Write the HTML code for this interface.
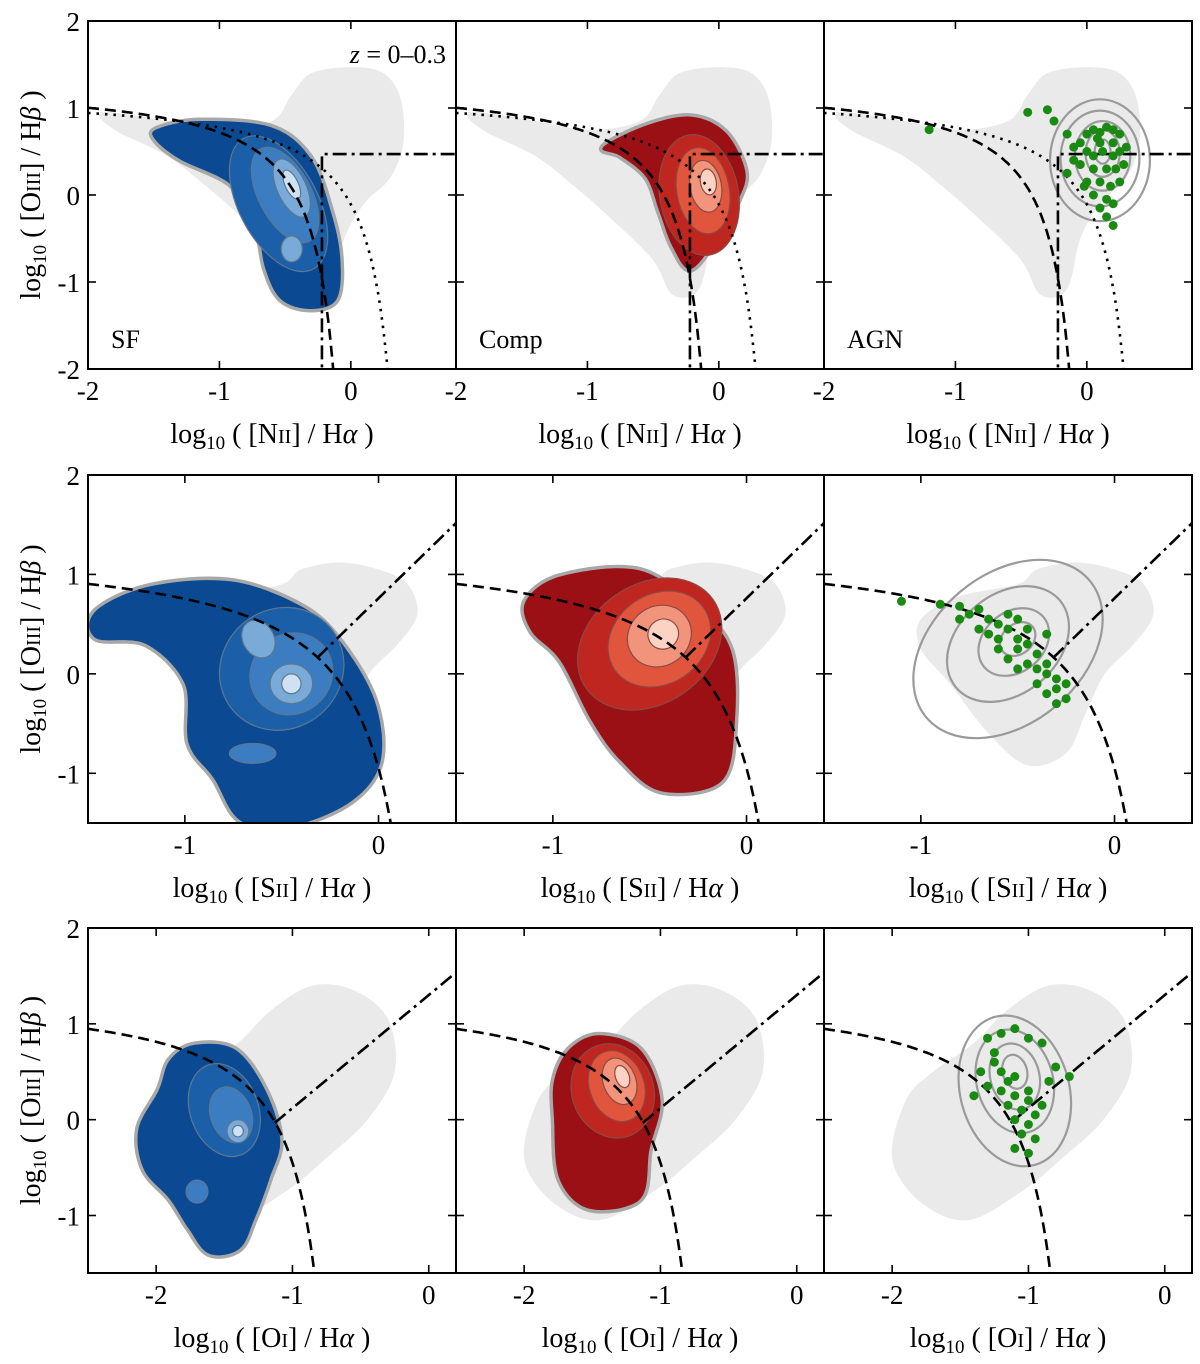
<!DOCTYPE html>
<html><head><meta charset="utf-8">
<style>
html,body{margin:0;padding:0;background:#fff;}
svg{display:block;font-family:"Liberation Serif","DejaVu Serif",serif;}
</style></head>
<body>
<svg id="fig" width="1200" height="1364" viewBox="0 0 1200 1364" xmlns="http://www.w3.org/2000/svg"></svg>
<script>
// ---------- data arrays ----------
const rowNames = ["nii", "sii", "oi"];
const colNames = ["SF", "Comp", "AGN"];
const xTicksNII = [-2, -1, 0];
const xTicksSII = [-1, 0];
const xTicksOI = [-2, -1, 0];
const yTicksNII = [-2, -1, 0, 1, 2];
const yTicksSII = [-1, 0, 1, 2];
const yTicksOI = [-1, 0, 1, 2];
const xLimNII = [-2, 0.8], yLimNII = [-2, 2];
const xLimSII = [-1.5, 0.4], yLimSII = [-1.5, 2];
const xLimOI = [-2.5, 0.2], yLimOI = [-1.6, 2];

// gray background clouds (all galaxies)
const cloudNII = [[-1.9,0.95],[-1.5,0.88],[-1.0,0.75],[-0.6,0.85],[-0.45,1.15],[-0.3,1.4],[0,1.47],[0.25,1.4],[0.38,1.1],[0.4,0.6],[0.3,0.2],[0.1,-0.1],[-0.05,-0.5],[-0.15,-1.08],[-0.35,-1.15],[-0.5,-0.75],[-0.8,-0.3],[-1.1,0.1],[-1.4,0.45],[-1.8,0.75]];
const cloudSII = [[-1.0,0.55],[-0.8,0.78],[-0.5,0.9],[-0.4,1.05],[-0.2,1.12],[0.0,1.05],[0.15,0.9],[0.2,0.6],[0.1,0.3],[-0.05,0.0],[-0.15,-0.4],[-0.25,-0.8],[-0.45,-0.92],[-0.65,-0.6],[-0.85,-0.1],[-1.0,0.25]];
const cloudOI = [[-1.9,0.2],[-1.7,0.5],[-1.4,0.8],[-1.15,1.15],[-0.85,1.4],[-0.55,1.35],[-0.3,1.05],[-0.25,0.5],[-0.45,0.0],[-0.75,-0.4],[-1.05,-0.75],[-1.45,-1.05],[-1.8,-0.85],[-2.0,-0.4]];

// coloured KDE regions (outer level)
const sfNII = [[-1.47,0.76],[-1.15,0.85],[-0.61,0.78],[-0.31,0.43],[-0.15,-0.2],[-0.08,-0.74],[-0.11,-1.2],[-0.31,-1.31],[-0.53,-1.2],[-0.65,-0.85],[-0.73,-0.28],[-0.92,0.13],[-1.3,0.41],[-1.49,0.64]];
const compNII = [[-0.88,0.55],[-0.55,0.8],[-0.21,0.9],[0.05,0.72],[0.2,0.28],[0.15,-0.05],[0.0,-0.45],[-0.21,-0.85],[-0.35,-0.6],[-0.45,-0.2],[-0.55,0.2],[-0.75,0.45]];
const sfSII = [[-1.46,0.63],[-1.18,0.88],[-0.76,0.93],[-0.40,0.68],[-0.20,0.33],[-0.02,-0.27],[0.01,-0.88],[-0.14,-1.28],[-0.45,-1.53],[-0.71,-1.48],[-0.85,-1.05],[-0.98,-0.7],[-1.0,-0.1],[-1.2,0.3],[-1.46,0.36]];
const compSII = [[-1.14,0.73],[-0.96,0.98],[-0.55,1.04],[-0.24,0.63],[-0.08,0.23],[-0.06,-0.47],[-0.13,-1.08],[-0.44,-1.18],[-0.65,-0.87],[-0.80,-0.47],[-0.96,0.13],[-1.11,0.43]];
const sfOI = [[-1.90,0.62],[-1.72,0.78],[-1.42,0.73],[-1.20,0.31],[-1.09,-0.21],[-1.17,-0.62],[-1.28,-1.04],[-1.39,-1.35],[-1.61,-1.40],[-1.76,-1.14],[-1.90,-0.83],[-2.09,-0.52],[-2.13,-0.10],[-1.98,0.31]];
const compOI = [[-1.67,0.73],[-1.45,0.88],[-1.15,0.73],[-1.00,0.21],[-1.08,-0.31],[-1.15,-0.83],[-1.52,-0.93],[-1.74,-0.62],[-1.78,0],[-1.78,0.41]];

// inner KDE levels: [cx, cy, rx, ry, rotationDeg, level]
const sfNIIlev = [[-0.55,-0.1,0.3,0.85,-28,1],[-0.5,0.0,0.2,0.6,-28,2],[-0.45,0.08,0.11,0.36,-25,3],[-0.45,0.12,0.05,0.18,-25,4],[-0.45,-0.62,0.08,0.15,0,3]];
const compNIIlev = [[-0.15,0.0,0.3,0.7,-10,1],[-0.12,0.05,0.2,0.5,-10,2],[-0.1,0.1,0.12,0.3,-10,3],[-0.08,0.15,0.06,0.15,-10,4]];
const sfSIIlev = [[-0.5,0.05,0.33,0.6,-40,1],[-0.45,0.0,0.22,0.4,-40,2],[-0.45,-0.1,0.11,0.2,0,3],[-0.45,-0.1,0.05,0.1,0,4],[-0.62,0.35,0.08,0.2,-30,3],[-0.65,-0.8,0.12,0.1,0,2]];
const compSIIlev = [[-0.5,0.3,0.4,0.6,-35,1],[-0.45,0.35,0.28,0.45,-35,2],[-0.45,0.38,0.17,0.3,-35,3],[-0.43,0.4,0.08,0.15,-35,4]];
const sfOIlev = [[-1.5,0.1,0.25,0.5,-20,1],[-1.45,0.05,0.15,0.3,-20,2],[-1.4,-0.12,0.08,0.12,0,3],[-1.4,-0.12,0.04,0.06,0,4],[-1.7,-0.75,0.08,0.12,0,2]];
const compOIlev = [[-1.35,0.3,0.3,0.5,-20,1],[-1.32,0.35,0.2,0.38,-20,2],[-1.3,0.4,0.12,0.25,-20,3],[-1.28,0.45,0.05,0.12,-20,4]];

// AGN gray contour ellipses
const agnNIIcont = [[0.1,0.4,0.38,0.7,0],[0.1,0.42,0.3,0.55,0],[0.12,0.45,0.21,0.4,0],[0.12,0.48,0.13,0.27,0],[0.12,0.5,0.06,0.14,0]];
const agnSIIcont = [[-0.55,0.25,0.55,0.75,-40],[-0.55,0.3,0.35,0.5,-40],[-0.52,0.32,0.2,0.3,-40],[-0.5,0.35,0.1,0.15,-40]];
const agnOIcont = [[-1.1,0.3,0.4,0.8,-15],[-1.1,0.4,0.28,0.55,-15],[-1.1,0.45,0.18,0.35,-15],[-1.1,0.5,0.09,0.18,-15]];

// AGN sample points
const agnNIIx = [-1.2,-0.45,-0.3,-0.25,-0.15,-0.1,-0.05,0,0.05,0.1,0.15,0.2,0.25,0.1,0.2,0,0.05,0.12,0.2,0.25,-0.05,0.05,0.15,0.22,0,0.1,0.18,0.25,0.05,0.15,0.2,0.1,0.15,0.2,-0.15,-0.1,0.3,0.28,0.08,-0.02];
const agnNIIy = [0.75,0.95,0.98,0.85,0.7,0.55,0.6,0.7,0.75,0.72,0.78,0.75,0.7,0.6,0.6,0.5,0.45,0.5,0.45,0.5,0.35,0.3,0.3,0.3,0.15,0.15,0.1,0.15,0,-0.05,-0.1,-0.15,-0.25,-0.35,0.25,0.4,0.55,0.35,0.65,0.1];
const agnSIIx = [-1.1,-0.9,-0.8,-0.75,-0.7,-0.65,-0.6,-0.55,-0.7,-0.6,-0.5,-0.5,-0.45,-0.4,-0.55,-0.45,-0.4,-0.35,-0.35,-0.3,-0.4,-0.3,-0.35,-0.25,-0.3,-0.65,-0.5,-0.8,-0.45,-0.55,-0.35,-0.5,-0.25,-0.6];
const agnSIIy = [0.73,0.7,0.68,0.6,0.65,0.55,0.5,0.45,0.45,0.35,0.35,0.25,0.3,0.2,0.15,0.1,0.05,0.1,0,-0.05,-0.1,-0.15,-0.2,-0.25,-0.3,0.4,0.55,0.55,0.45,0.6,0.4,0.05,-0.1,0.25];
const agnOIx = [-1.3,-1.2,-1.1,-1.0,-0.9,-0.8,-0.85,-0.7,-1.25,-1.2,-1.15,-1.1,-1.3,-1.2,-1.1,-1.0,-1.15,-1.05,-1.0,-1.1,-1.0,-0.95,-1.05,-0.95,-1.1,-1.0,-1.35,-1.4,-1.25,-0.9];
const agnOIy = [0.85,0.9,0.95,0.85,0.8,0.55,0.4,0.45,0.6,0.5,0.4,0.45,0.35,0.3,0.25,0.3,0.15,0.1,0.2,0,-0.05,0.05,-0.15,-0.2,-0.3,-0.35,0.5,0.25,0.7,0.15];

// ---------- layout ----------
const NS = "http://www.w3.org/2000/svg";
const svg = document.getElementById("fig");
const colLeft = [88, 456, 824];
const colW = 368;
const rows = [
  {top:21, bot:369, xl:xLimNII, yl:yLimNII, xt:xTicksNII, yt:yTicksNII, cloud:cloudNII, sf:sfNII, cp:compNII, sfl:sfNIIlev, cpl:compNIIlev, ac:agnNIIcont, ax:agnNIIx, ay:agnNIIy, line:"N", lab:"N"},
  {top:475, bot:823, xl:xLimSII, yl:yLimSII, xt:xTicksSII, yt:yTicksSII, cloud:cloudSII, sf:sfSII, cp:compSII, sfl:sfSIIlev, cpl:compSIIlev, ac:agnSIIcont, ax:agnSIIx, ay:agnSIIy, line:"S", lab:"S"},
  {top:928, bot:1273, xl:xLimOI, yl:yLimOI, xt:xTicksOI, yt:yTicksOI, cloud:cloudOI, sf:sfOI, cp:compOI, sfl:sfOIlev, cpl:compOIlev, ac:agnOIcont, ax:agnOIx, ay:agnOIy, line:"O", lab:"O"}
];
const blues = ["#0b4a92","#1c5fa9","#3b7dc0","#7aaad8","#cfe2f3","#f4f8fc"];
const reds = ["#9a1015","#bf2620","#e0553b","#f2937b","#fcd3c3","#fff2ec"];

function el(tag, attrs, parent){
  const e = document.createElementNS(NS, tag);
  for (const k in attrs) e.setAttribute(k, attrs[k]);
  (parent||svg).appendChild(e);
  return e;
}
function smooth(pts){
  const n = pts.length; let d = "M"+pts[0][0].toFixed(1)+","+pts[0][1].toFixed(1);
  for (let i=0;i<n;i++){
    const p0=pts[(i-1+n)%n], p1=pts[i], p2=pts[(i+1)%n], p3=pts[(i+2)%n];
    const c1=[p1[0]+(p2[0]-p0[0])/6, p1[1]+(p2[1]-p0[1])/6];
    const c2=[p2[0]-(p3[0]-p1[0])/6, p2[1]-(p3[1]-p1[1])/6];
    d+="C"+c1[0].toFixed(1)+","+c1[1].toFixed(1)+" "+c2[0].toFixed(1)+","+c2[1].toFixed(1)+" "+p2[0].toFixed(1)+","+p2[1].toFixed(1);
  }
  return d+"Z";
}
function polyline(pts){ return "M"+pts.map(p=>p[0].toFixed(1)+","+p[1].toFixed(1)).join("L"); }

rows.forEach((r, ri) => {
  colNames.forEach((cname, ci) => {
    const L = colLeft[ci], R = L + colW, T = r.top, B = r.bot;
    const sx = v => L + (v - r.xl[0]) / (r.xl[1] - r.xl[0]) * (R - L);
    const sy = v => B - (v - r.yl[0]) / (r.yl[1] - r.yl[0]) * (B - T);
    const kx = (R-L)/(r.xl[1]-r.xl[0]), ky = (B-T)/(r.yl[1]-r.yl[0]);
    const g = el("g", {});
    
    
    const cid = "clip"+ri+ci;
    const cp = el("clipPath", {id:cid}, g);
    el("rect", {x:L, y:T, width:R-L, height:B-T}, cp);
    const inner = el("g", {"clip-path":"url(#"+cid+")"}, g);

    // gray cloud
    const cl = el("path", {d:smooth(r.cloud.map(p=>[sx(p[0]),sy(p[1])])), fill:"#eaeaea"}, inner);
    
    

    const ell = (e, fill, stroke, sw) => {
      const cx=sx(e[0]), cy=sy(e[1]);
      return el("ellipse", {cx:cx, cy:cy, rx:e[2]*kx, ry:e[3]*ky, transform:"rotate("+e[4]+" "+cx+" "+cy+")", fill:fill, stroke:stroke, "stroke-width":sw}, inner);
    };

    if (ci < 2){
      const region = ci===0 ? r.sf : r.cp;
      const lev = ci===0 ? r.sfl : r.cpl;
      const pal = ci===0 ? blues : reds;
      const pts = region.map(p=>[sx(p[0]),sy(p[1])]);
      const og = el("path", {d:smooth(pts), fill:"none", stroke:"#a8a8a8", "stroke-width":7}, inner);
      
      
      const rg = el("path", {d:smooth(pts), fill:pal[0]}, inner);
      
      
      lev.forEach(e => {
        const c = pal[e[5]];
        const le = ell(e, c, ci===0 ? "#5d7790" : "#8a4a45", 1.2);
        
        
      });
    } else {
      r.ac.forEach(e => {
        const ce = ell(e, "none", "#9a9a9a", 2.2);
        
        
      });
    }

    // demarcation lines
    const lineStyle = {fill:"none", stroke:"#000", "stroke-width":2.6};
    const curve = (f, x0, x1, dash, name) => {
      const pts=[]; const N=200;
      for (let i=0;i<=N;i++){ const x=x0+(x1-x0)*i/N; const y=f(x); if (y < r.yl[0]-0.5) break; pts.push([sx(x),sy(y)]); }
      const p = el("path", Object.assign({d:polyline(pts), "stroke-dasharray":dash}, lineStyle), inner);
      
      
    };
    if (r.line==="N"){
      curve(x=>0.61/(x-0.05)+1.3, r.xl[0], 0.045, "11,6", "kauffmann-line");
      curve(x=>0.61/(x-0.47)+1.19, r.xl[0], 0.465, "2.5,6", "kewley-line");
      const dd = el("path", Object.assign({d:"M"+sx(-0.22)+","+sy(-2.2)+"L"+sx(-0.22)+","+sy(0.47)+"L"+R+","+sy(0.47), "stroke-dasharray":"14,5,3,5"}, lineStyle), inner);
      
      
    } else if (r.line==="S"){
      curve(x=>0.72/(x-0.32)+1.30, r.xl[0], 0.31, "11,6", "kewley-line");
      curve(x=>1.89*x+0.76, -0.315, r.xl[1], "14,5,3,5", "seyfert-liner-line");
    } else {
      curve(x=>0.73/(x+0.59)+1.33, r.xl[0], -0.6, "11,6", "kewley-line");
      curve(x=>1.18*x+1.30, -1.13, r.xl[1], "14,5,3,5", "seyfert-liner-line");
    }

    if (ci===2){
      r.ax.forEach((xv, i) => {
        const c = el("circle", {cx:sx(xv), cy:sy(r.ay[i]), r:4.5, fill:"#1a8a12"}, inner);
        
        
      });
    }

    // frame
    const fr = el("rect", {x:L, y:T, width:R-L, height:B-T, fill:"none", stroke:"#000", "stroke-width":2}, g);
    
    
    // ticks
    r.xt.forEach(t => {
      const x = sx(t);
      el("line", {x1:x, y1:B, x2:x, y2:B-8, stroke:"#000", "stroke-width":1.6}, g);
      el("line", {x1:x, y1:T, x2:x, y2:T+8, stroke:"#000", "stroke-width":1.6}, g);
      const tl = el("text", {x:x, y:B+31, "text-anchor":"middle", "font-size":27}, g);
      tl.textContent = t<0 ? "-"+Math.abs(t) : String(t);
      
      
    });
    r.yt.forEach(t => {
      const y = sy(t);
      el("line", {x1:L, y1:y, x2:L+8, y2:y, stroke:"#000", "stroke-width":1.6}, g);
      el("line", {x1:R, y1:y, x2:R-8, y2:y, stroke:"#000", "stroke-width":1.6}, g);
      if (ci===0){
        const tl = el("text", {x:L-8, y:y+10, "text-anchor":"end", "font-size":27}, g);
        tl.textContent = t<0 ? "-"+Math.abs(t) : String(t);
        
        
      }
    });

    // x axis title
    const xt = el("text", {x:(L+R)/2, y:B+74, "text-anchor":"middle", "font-size":28}, g);
    
    
    const line = r.lab==="N" ? ["N","II"] : r.lab==="S" ? ["S","II"] : ["O","I"];
    xt.innerHTML = 'log<tspan font-size="19" dy="6">10</tspan><tspan dy="-6"> ( [' + line[0] + '</tspan><tspan font-size="20">' + line[1] + '</tspan>] / H<tspan font-style="italic">α</tspan> )';

    if (ci===0){
      const cy = (T+B)/2;
      const yt = el("text", {x:0, y:0, transform:"translate(40,"+cy+") rotate(-90)", "text-anchor":"middle", "font-size":28}, g);
      
      
      yt.innerHTML = 'log<tspan font-size="19" dy="6">10</tspan><tspan dy="-6"> ( [O</tspan><tspan font-size="20">III</tspan>] / H<tspan font-style="italic">β</tspan> )';
    }
    if (ri===0){
      const cl2 = el("text", {x:L+23, y:B-21, "font-size":26}, g);
      cl2.textContent = cname;
      
      
      if (ci===0){
        const z = el("text", {x:R-10, y:T+42, "text-anchor":"end", "font-size":26}, g);
        z.innerHTML = '<tspan font-style="italic">z</tspan> = 0–0.3';
        
        
      }
    }
  });
});
</script>
</body></html>
